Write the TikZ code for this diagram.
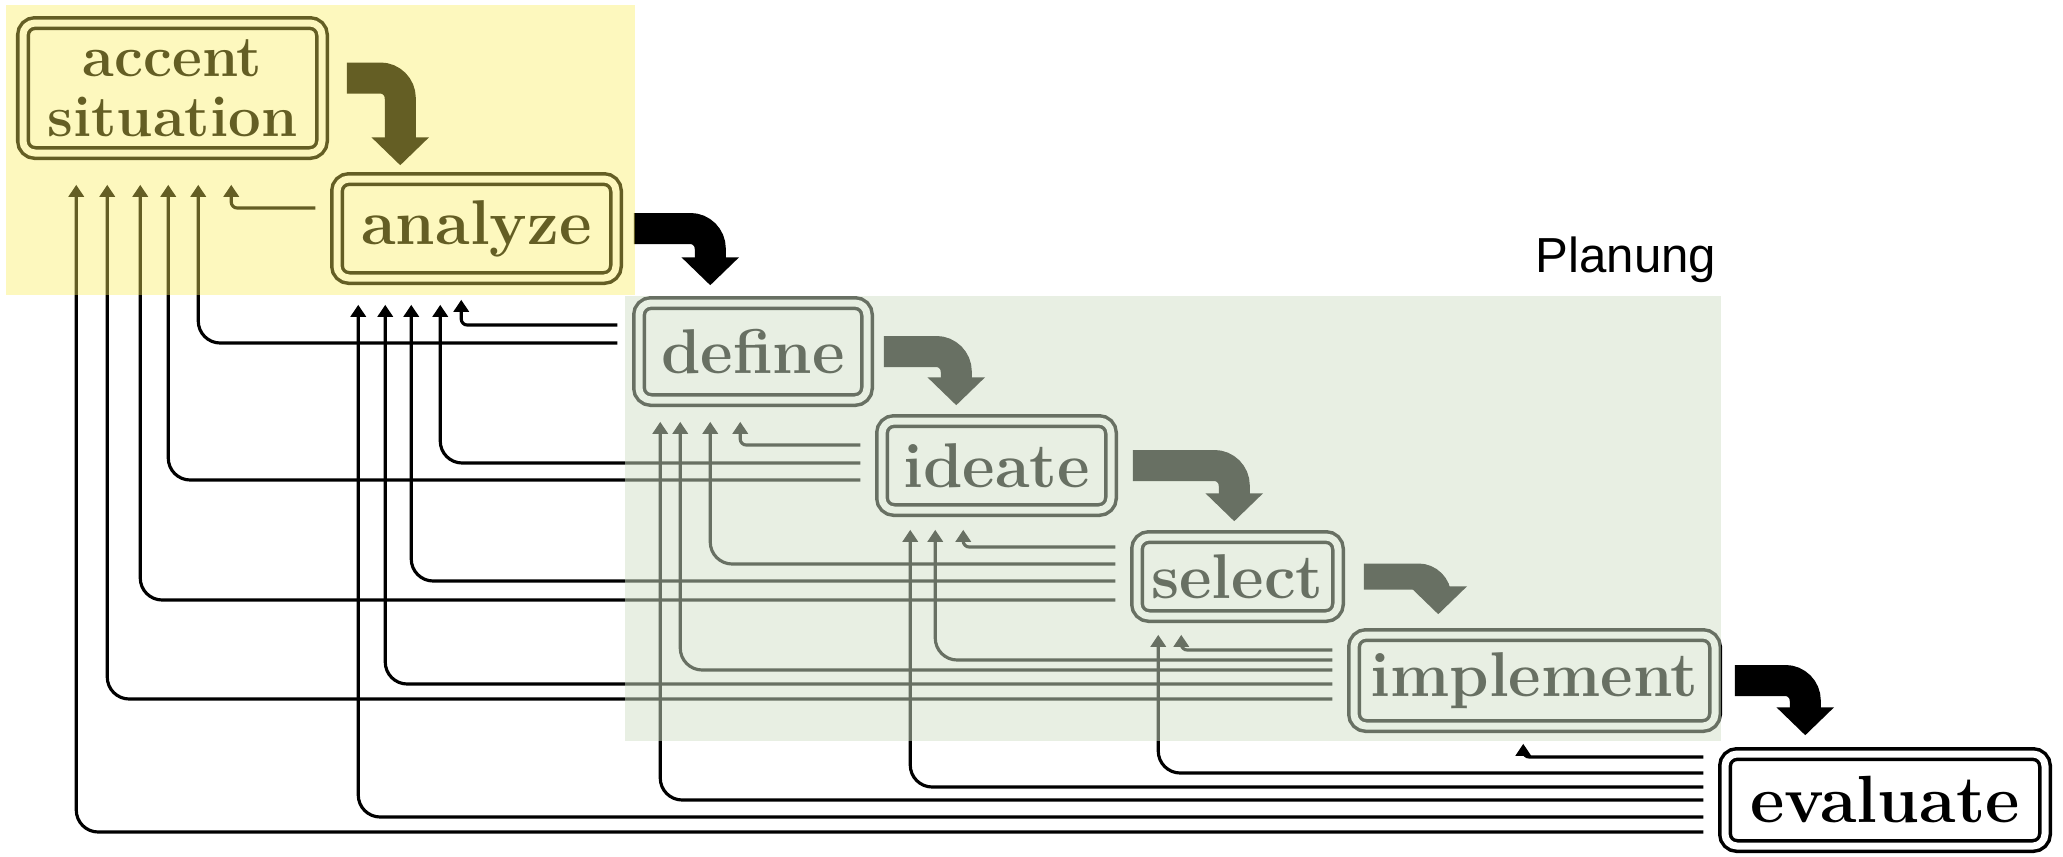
\documentclass[tikz,border=0pt]{standalone}
\usepackage{fontspec}
\newfontfamily\planfont{Liberation Sans}
\usepackage{tikz}
\usetikzlibrary{arrows.meta,positioning}

\definecolor{yellowwash}{rgb}{0.98,0.93,0.36}
\definecolor{greenwash}{rgb}{0.82,0.88,0.78}

\begin{document}
\begin{tikzpicture}[
        stepbox/.style={rectangle, draw, double, double distance=0.07cm, line width=0.035cm, rounded corners=0.12cm, inner sep=0pt, text centered, font=\fontsize{18}{18}\selectfont\bfseries},
        fatarrow/.style={line width=0.31cm, rounded corners=0.2cm, -{Triangle[width=0.56cm,length=0.28cm]}},
        back/.style={line width=0.9pt, rounded corners=0.22cm, -{Triangle[width=0.15cm,length=0.12cm]}},
        hook/.style={back, rounded corners=0.06cm}
    ]
    \useasboundingbox (0,0) rectangle (20.63,-8.56);

    % Steps
    \node[stepbox, minimum width=2.99cm, minimum height=1.30cm, align=center, font=\fontsize{16.5}{17}\selectfont\bfseries] (acc) at (1.725,-0.88) {accent\\situation};
    \node[stepbox, minimum width=2.79cm, minimum height=0.99cm] (ana) at (4.765,-2.285) {analyze};
    \node[stepbox, minimum width=2.28cm, minimum height=0.97cm] (def) at (7.53,-3.515) {define};
    \node[stepbox, minimum width=2.29cm, minimum height=0.89cm] (ide) at (9.965,-4.655) {ideate};
    \node[stepbox, minimum width=2.01cm, minimum height=0.79cm] (sel) at (12.375,-5.765) {select};
    \node[stepbox, minimum width=3.61cm, minimum height=0.91cm] (imp) at (15.345,-6.805) {implement};
    \node[stepbox, minimum width=3.20cm, minimum height=0.92cm, font=\fontsize{19}{19}\selectfont\bfseries] (eva) at (18.85,-8.00) {evaluate};

    % Label
    \node[anchor=base east, inner sep=0pt, font=\fontsize{14}{16}\planfont] (plan) at (17.17,-2.72) {Planung};

    % Forward arrows
    \draw[fatarrow] ([xshift=0.23cm,yshift=0.10cm]acc.east) -| ([xshift=0.65cm,yshift=0.12cm]ana.north west);
    \draw[fatarrow] ([xshift=0.16cm]ana.east) -| ([xshift=0.73cm,yshift=0.16cm]def.north west);
    \draw[fatarrow] ([xshift=0.15cm]def.east) -| ([xshift=0.76cm,yshift=0.14cm]ide.north west);
    \draw[fatarrow] ([xshift=0.20cm]ide.east) -| ([xshift=0.99cm,yshift=0.14cm]sel.north west);
    \draw[fatarrow, line width=0.26cm] ([xshift=0.24cm]sel.east) -| ([xshift=0.86cm,yshift=0.19cm]imp.north west);
    \draw[fatarrow] ([xshift=0.18cm]imp.east) -| ([xshift=0.82cm,yshift=0.17cm]eva.north west);

    % Feedback to accent situation
    \draw[hook] ([xshift=-0.2cm,yshift=0.205cm]ana.west) -| ([xshift=2.10cm,yshift=-0.30cm]acc.south west);
    \draw[back] ([xshift=-0.2cm,yshift=0.085cm]def.west) -| ([xshift=1.77cm,yshift=-0.30cm]acc.south west);
    \draw[back] ([xshift=-0.2cm,yshift=-0.145cm]ide.west) -| ([xshift=1.47cm,yshift=-0.30cm]acc.south west);
    \draw[back] ([xshift=-0.2cm,yshift=-0.235cm]sel.west) -| ([xshift=1.19cm,yshift=-0.30cm]acc.south west);
    \draw[back] ([xshift=-0.2cm,yshift=-0.185cm]imp.west) -| ([xshift=0.86cm,yshift=-0.30cm]acc.south west);
    \draw[back] ([xshift=-0.2cm,yshift=-0.32cm]eva.west) -| ([xshift=0.55cm,yshift=-0.30cm]acc.south west);

    % Feedback to analyze
    \draw[hook] ([xshift=-0.2cm,yshift=0.265cm]def.west) -| ([xshift=1.26cm,yshift=-0.20cm]ana.south west);
    \draw[back] ([xshift=-0.2cm,yshift=0.025cm]ide.west) -| ([xshift=1.05cm,yshift=-0.25cm]ana.south west);
    \draw[back] ([xshift=-0.2cm,yshift=-0.045cm]sel.west) -| ([xshift=0.76cm,yshift=-0.25cm]ana.south west);
    \draw[back] ([xshift=-0.2cm,yshift=-0.035cm]imp.west) -| ([xshift=0.50cm,yshift=-0.25cm]ana.south west);
    \draw[back] ([xshift=-0.2cm,yshift=-0.17cm]eva.west) -| ([xshift=0.23cm,yshift=-0.25cm]ana.south west);

    % Feedback to define
    \draw[hook] ([xshift=-0.2cm,yshift=0.205cm]ide.west) -| ([xshift=1.03cm,yshift=-0.20cm]def.south west);
    \draw[back] ([xshift=-0.2cm,yshift=0.125cm]sel.west) -| ([xshift=0.73cm,yshift=-0.20cm]def.south west);
    \draw[back] ([xshift=-0.2cm,yshift=0.105cm]imp.west) -| ([xshift=0.43cm,yshift=-0.20cm]def.south west);
    \draw[back] ([xshift=-0.2cm]eva.west) -| ([xshift=0.23cm,yshift=-0.20cm]def.south west);

    % Feedback to ideate
    \draw[hook] ([xshift=-0.2cm,yshift=0.295cm]sel.west) -| ([xshift=0.83cm,yshift=-0.18cm]ide.south west);
    \draw[back] ([xshift=-0.2cm,yshift=0.205cm]imp.west) -| ([xshift=0.55cm,yshift=-0.18cm]ide.south west);
    \draw[back] ([xshift=-0.2cm,yshift=0.13cm]eva.west) -| ([xshift=0.30cm,yshift=-0.18cm]ide.south west);

    % Feedback to select
    \draw[hook] ([xshift=-0.2cm,yshift=0.305cm]imp.west) -| ([xshift=0.46cm,yshift=-0.17cm]sel.south west);
    \draw[back] ([xshift=-0.2cm,yshift=0.27cm]eva.west) -| ([xshift=0.23cm,yshift=-0.17cm]sel.south west);

    % Feedback to implement
    \draw[hook] ([xshift=-0.2cm,yshift=0.43cm]eva.west) -| ([xshift=1.71cm,yshift=-0.16cm]imp.south west);

    % Colour washes
    \fill[yellowwash, fill opacity=0.4] (0.06,-0.05) rectangle (6.35,-2.95);
    \fill[greenwash, fill opacity=0.5] (6.25,-2.96) rectangle (17.21,-7.41);

\end{tikzpicture}
\end{document}
